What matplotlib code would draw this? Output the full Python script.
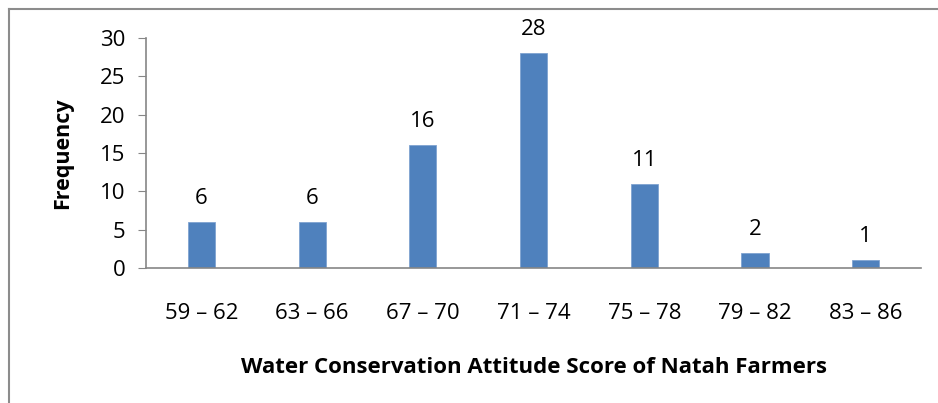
import matplotlib.pyplot as plt
from matplotlib.lines import Line2D
import numpy as np

plt.rcParams['font.family'] = ['Open Sans', 'DejaVu Sans']

categories = ['59 – 62', '63 – 66', '67 – 70', '71 – 74', '75 – 78', '79 – 82', '83 – 86']
frequency = [6, 6, 16, 28, 11, 2, 1]
yticks = [0, 5, 10, 15, 20, 25, 30]

fig = plt.figure(figsize=(9.38, 4.03), dpi=100)
ax = fig.add_axes([0.1557, 0.335, 0.8263, 0.5707])

x = np.arange(len(categories))
bars = ax.bar(x, frequency, width=0.245, color='#4F81BD', edgecolor='#7FA3D1', linewidth=0.6)

for xi, v in zip(x, frequency):
    ax.annotate(str(v), (xi, v), xytext=(0, 13), textcoords='offset points',
                ha='center', va='baseline', fontsize=16)

ax.set_xlim(-0.5, len(categories) - 0.5)
ax.set_ylim(0, 30)
ax.set_yticks(yticks)
ax.set_xticks(x)
ax.set_xticklabels(categories, fontsize=16)
ax.tick_params(axis='y', labelsize=16, length=6, color='#868686', pad=9)
ax.tick_params(axis='x', length=0, pad=25)

for s in ['top', 'right']:
    ax.spines[s].set_visible(False)
for s in ['left', 'bottom']:
    ax.spines[s].set_color('#868686')
    ax.spines[s].set_linewidth(1.2)

ax.set_ylabel('Frequency', fontsize=15.5, fontweight='bold', labelpad=19)
ax.set_xlabel('Water Conservation Attitude Score of Natah Farmers', fontsize=16,
              fontweight='bold', labelpad=24)

# chart area border
fig.add_artist(Line2D([9/938, 9/938], [0, 1 - 9/403], color='#8c8c8c', lw=1.5))
fig.add_artist(Line2D([9/938, 1], [1 - 9/403, 1 - 9/403], color='#8c8c8c', lw=1.5))

fig.savefig('out.png', dpi=100)
